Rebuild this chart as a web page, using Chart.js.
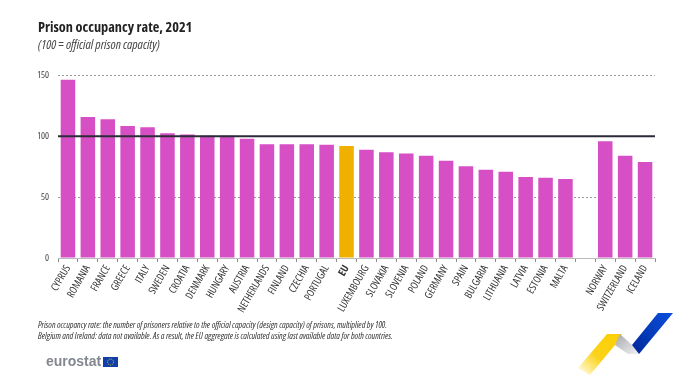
<!DOCTYPE html>
<html>
<head>
<meta charset="utf-8">
<style>
  html, body { margin: 0; padding: 0; background: #fff; }
  #wrap { position: relative; width: 700px; height: 382px; overflow: hidden; }
  #note { position: absolute; left: 38px; top: 320px; font: italic condensed 8.9px/10.5px "Open Sans", sans-serif; color: #333; white-space: nowrap; }
  #brand { position: absolute; left: 46px; top: 352px; font: bold 14px/18px "Liberation Sans", sans-serif; color: #83878f; }
  #flag, #ribbon { position: absolute; }
  #flag { left: 103px; top: 357px; }
  #ribbon { left: 570px; top: 310px; }
</style>
</head>
<body>
<div id="wrap">
  <canvas id="chart_prisonOccupancy" width="700" height="382"></canvas>
  <div id="note">Prison occupancy rate: the number of prisoners relative to the official capacity (design capacity) of prisons, multiplied by 100.<br>Belgium and Ireland: data not available. As a result, the EU aggregate is calculated using last available data for both countries.</div>
  <div id="brand">eurostat</div>
  <svg id="flag" width="15" height="10"><rect width="15" height="10" fill="#0f3fa8"/><circle cx="7.5" cy="5" r="3" fill="none" stroke="#e8c920" stroke-width="1" stroke-dasharray="1 1"/></svg>
  <svg id="ribbon" width="110" height="72">
    <defs>
      <linearGradient id="fadeYellow" x1="0" y1="1" x2="1" y2="0"><stop offset="0" stop-color="#ffd400" stop-opacity="0"/><stop offset="0.45" stop-color="#fad21a"/><stop offset="1" stop-color="#fccf00"/></linearGradient>
      <linearGradient id="grey" x1="0" y1="0" x2="1" y2="1"><stop offset="0" stop-color="#a5a7ab"/><stop offset="1" stop-color="#f2f2f4"/></linearGradient>
      <linearGradient id="blue" x1="0" y1="1" x2="1" y2="0"><stop offset="0" stop-color="#00289a"/><stop offset="1" stop-color="#0b4fdc"/></linearGradient>
    </defs>
    <polygon points="37,24 52,24 45,35 20,65 8,58" fill="url(#fadeYellow)"/>
    <polygon points="50,24 62,35 69,44 58,44 45,35" fill="url(#grey)"/>
    <polygon points="88,3 103,3 69,44 62,35" fill="url(#blue)"/>
  </svg>
</div>
<script src="https://cdn.jsdelivr.net/npm/chart.js@4"></script>
<script>
var categories = [
  'CYPRUS', 'ROMANIA', 'FRANCE', 'GREECE', 'ITALY', 'SWEDEN', 'CROATIA', 'DENMARK', 'HUNGARY', 'AUSTRIA',
  'NETHERLANDS', 'FINLAND', 'CZECHIA', 'PORTUGAL', 'EU', 'LUXEMBOURG', 'SLOVAKIA', 'SLOVENIA', 'POLAND', 'GERMANY',
  'SPAIN', 'BULGARIA', 'LITHUANIA', 'LATVIA', 'ESTONIA', 'MALTA', '', 'NORWAY', 'SWITZERLAND', 'ICELAND'
];
var occupancy = [
  146.5, 116, 114, 108.5, 107.5, 102.5, 101.5, 100.5, 100.5, 98,
  93.5, 93.5, 93.5, 93, 92, 89, 87, 86, 84, 80,
  75.5, 72.5, 71, 66.5, 66, 65, null, 96, 84, 79
];
var yTicks = [0, 50, 100, 150];
var capacityLine = 100;
var titleText = 'Prison occupancy rate, 2021';
var subtitleText = '(100 = official prison capacity)';

var narrow = '"Open Sans", sans-serif';

var chart_prisonOccupancy = new Chart(document.getElementById('chart_prisonOccupancy'), {
    type: 'bar',
    data: {
        labels: categories,
        datasets: [{
            label: 'Prison occupancy rate',
            data: occupancy,
            backgroundColor: categories.map(function (c) { return c === 'EU' ? '#f0b000' : '#d64fc4'; }),
            categoryPercentage: 1,
            barPercentage: 0.73
        }]
    },
    options: {
        animation: false,
        responsive: false,
        layout: { padding: { left: 38, right: 45, top: 14, bottom: 69 } },
        plugins: {
            legend: { display: false },
            tooltip: { enabled: false },
            title: {
                display: true,
                text: titleText,
                align: 'start',
                color: '#222',
                // weight string carries the stretch into the canvas font shorthand
                font: { family: narrow, size: 14.3, weight: 'bold condensed' },
                padding: { top: 5, bottom: 2 }
            },
            subtitle: {
                display: true,
                text: subtitleText,
                align: 'start',
                color: '#444',
                font: { family: narrow, size: 12.8, style: 'italic', weight: 'normal condensed' },
                padding: { top: 0, bottom: 22 }
            }
        },
        scales: {
            x: {
                offset: true,
                afterFit: function (scale) { scale.height = 55; },
                grid: { drawOnChartArea: false, drawTicks: true, tickLength: 4, color: '#8a8a8a', offset: true },
                border: { color: '#bbb' },
                ticks: {
                    autoSkip: false,
                    minRotation: 60,
                    maxRotation: 60,
                    padding: 1,
                    color: '#333',
                    font: function (ctx) {
                        return { family: narrow, size: 10.5, weight: categories[ctx.index] === 'EU' ? 'bold condensed' : 'normal condensed' };
                    }
                }
            },
            y: {
                min: 0,
                max: 150,
                afterFit: function (scale) { scale.width = 20; },
                afterBuildTicks: function (scale) { scale.ticks = yTicks.map(function (v) { return { value: v }; }); },
                grid: { color: '#9a9a9a', drawTicks: false, tickLength: 0 },
                border: { display: false, dash: [2, 2] },
                ticks: {
                    padding: 9,
                    color: '#444',
                    font: { family: narrow, size: 9.5, weight: 'normal condensed' }
                }
            }
        }
    },
    plugins: [{
        id: 'capacityLine',
        afterDatasetsDraw: function (chart) {
            var ctx = chart.ctx;
            var y = chart.scales.y.getPixelForValue(capacityLine);
            ctx.save();
            ctx.strokeStyle = '#2b2b38';
            ctx.lineWidth = 2;
            ctx.beginPath();
            ctx.moveTo(chart.chartArea.left, y);
            ctx.lineTo(chart.chartArea.right, y);
            ctx.stroke();
            ctx.restore();
        }
    }]
});
</script>
</body>
</html>
